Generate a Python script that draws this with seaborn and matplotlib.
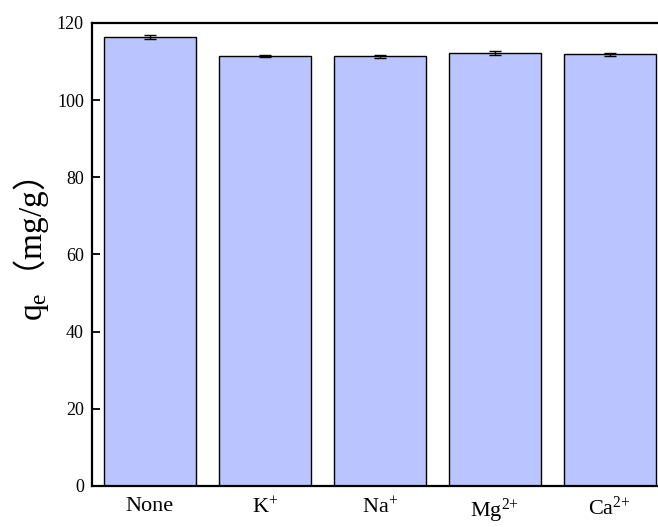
import numpy as np
import pandas as pd
import matplotlib
matplotlib.use("Agg")
import matplotlib.pyplot as plt
import seaborn as sns

categories = ["None", r"K$^{+}$", r"Na$^{+}$", r"Mg$^{2{+}}$", r"Ca$^{2{+}}$"]
qe_values = [116.4, 111.5, 111.3, 112.2, 111.9]
qe_errors = [0.5, 0.3, 0.3, 0.6, 0.4]
y_ticks = [0, 20, 40, 60, 80, 100, 120]
ylabel_text = r"q$_{\mathrm{e}}\mathsf{（}$mg/g$\mathsf{）}$"

sns.set_theme(style="ticks")
serif_list = ["Liberation Serif", "Noto Sans CJK SC"]
plt.rcParams["font.family"] = serif_list
plt.rcParams["mathtext.fontset"] = "custom"
plt.rcParams["mathtext.rm"] = "Liberation Serif"
plt.rcParams["mathtext.it"] = "Liberation Serif:italic"
plt.rcParams["mathtext.sf"] = "Noto Sans CJK SC"

df = pd.DataFrame({"ion": categories, "qe": qe_values})

W, H = 658, 527
fig = plt.figure(figsize=(W / 100, H / 100), dpi=100)
ax = fig.add_axes([0.14, 0.078, 0.874, 0.8786])

sns.barplot(data=df, x="ion", y="qe", ax=ax, color="#BAC4FF", saturation=1,
            edgecolor="black", linewidth=1.0, width=0.8, errorbar=None)
ax.errorbar(np.arange(len(categories)), qe_values, yerr=qe_errors, fmt="none",
            ecolor="black", elinewidth=1.0, capsize=4, capthick=1.0)

ax.set_xlim(-0.5, len(categories) - 0.5)
ax.set_ylim(0, 120)
ax.set_yticks(y_ticks)
ax.set_xlabel("")
ax.set_ylabel("")

for side in ["left", "bottom", "top", "right"]:
    ax.spines[side].set_linewidth(1.6)
    ax.spines[side].set_color("black")

ax.tick_params(axis="y", direction="in", length=6, width=1.3, labelsize=13,
               colors="black", pad=6)
ax.tick_params(axis="x", direction="in", length=6, width=1.3, labelsize=16,
               colors="black", pad=8)

fig.text(42 / W, (H - 250) / H, ylabel_text, rotation=90, rotation_mode="anchor",
         ha="center", va="baseline", fontsize=24, color="black")

fig.savefig("out.png", dpi=100)
